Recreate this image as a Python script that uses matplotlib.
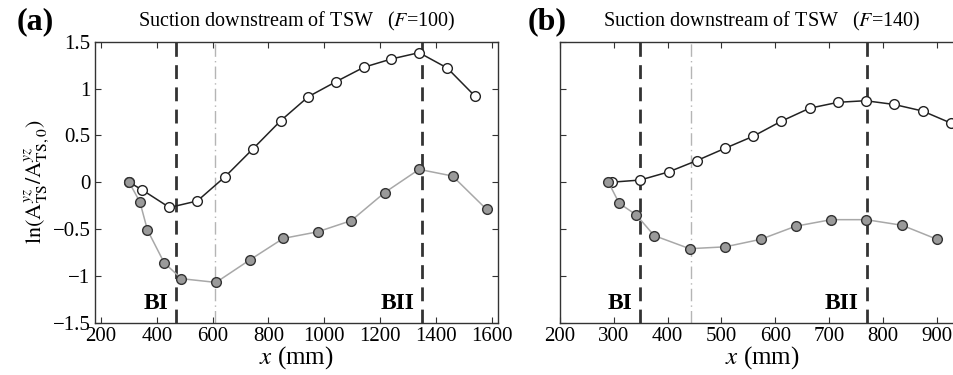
import matplotlib
matplotlib.use("Agg")
import matplotlib.pyplot as plt
from matplotlib.ticker import FuncFormatter

# panel (a): F=100
xa_open = [300, 346, 445, 545, 645, 744, 844, 943, 1042, 1142, 1240, 1340, 1441, 1540]
ya_open = [0.0, -0.08, -0.27, -0.20, 0.06, 0.355, 0.657, 0.913, 1.073, 1.227, 1.315, 1.383, 1.219, 0.92]
xa_fill = [300, 339, 366, 426, 488, 612, 733, 853, 976, 1097, 1217, 1340, 1460, 1582]
ya_fill = [0.0, -0.21, -0.51, -0.86, -1.03, -1.07, -0.83, -0.60, -0.53, -0.41, -0.11, 0.137, 0.066, -0.29]
a_bI, a_mid, a_bII = 469, 609, 1352

# panel (b): F=140
xb_open = [296, 349, 402, 454, 506, 559, 611, 664, 717, 768, 821, 874, 927]
yb_open = [0.0, 0.023, 0.11, 0.23, 0.36, 0.49, 0.65, 0.79, 0.853, 0.87, 0.83, 0.76, 0.63]
xb_fill = [290, 310, 342, 375, 441, 507, 573, 638, 704, 769, 836, 901]
yb_fill = [0.0, -0.225, -0.35, -0.57, -0.71, -0.69, -0.61, -0.47, -0.40, -0.40, -0.46, -0.61]
b_bI, b_mid, b_bII = 349, 444, 770

plt.rcParams["font.family"] = ["Liberation Serif", "DejaVu Serif"]
plt.rcParams["mathtext.fontset"] = "stix"
plt.rcParams["axes.unicode_minus"] = True

W, H = 954, 375
fig = plt.figure(figsize=(W / 100, H / 100), dpi=100)

def px_axes(x0, x1, y0, y1):
    return fig.add_axes([x0 / W, 1 - y1 / H, (x1 - x0) / W, (y1 - y0) / H])

fmt = FuncFormatter(lambda v, p: ("%g" % v).replace("-", "\u2212"))


def draw(ax, xo, yo, xf, yf, bI, mid, bII, title):
    span = ax.get_xlim()[1] - ax.get_xlim()[0]
    ax.axvline(bI, color="#333333", lw=2, ls=(0, (5, 3)), zorder=1)
    ax.axvline(bII, color="#333333", lw=2, ls=(0, (5, 3)), zorder=1)
    ax.axvline(mid, color="#b5b5b5", lw=1, ls=(0, (9, 3, 1, 3)), zorder=1)
    ax.plot(xo, yo, "-o", color="#222222", lw=1.1, ms=7, mfc="white",
            mec="#222222", mew=1, zorder=3)
    ax.plot(xf, yf, "-o", color="#a8a8a8", lw=1.1, ms=7, mfc="#9a9a9a",
            mec="#333333", mew=1, zorder=4)
    off = 8 / 403.6 * span
    ax.text(bI - off, -1.3, "BI", ha="right", va="center",
            fontsize=17, fontweight="bold")
    ax.text(bII - off, -1.3, "BII", ha="right", va="center",
            fontsize=17, fontweight="bold")
    ax.set_title(title, fontsize=14.5, pad=11)
    ax.set_xlabel(r"$x$ (mm)", fontsize=18, labelpad=-1)
    ax.set_ylim(-1.5, 1.5)
    ax.set_yticks([-1.5, -1, -0.5, 0, 0.5, 1, 1.5])
    ax.yaxis.set_major_formatter(fmt)
    ax.tick_params(direction="in", top=True, right=True, length=4,
                   labelsize=15, color="#333333", width=0.8, pad=3)
    for s in ax.spines.values():
        s.set_color("#333333")
        s.set_linewidth(1)


ax1 = px_axes(94.7, 498.3, 41.7, 322.7)
ax1.set_xlim(177, 1624)
ax1.set_xticks(range(200, 1601, 200))
draw(ax1, xa_open, ya_open, xa_fill, ya_fill, a_bI, a_mid, a_bII,
     r"Suction downstream of TSW   ($\it{F}$=100)")
ax1.set_ylabel(r"$\mathrm{ln}(\mathrm{A}^{yz}_{\mathrm{TS}}/\mathrm{A}^{yz}_{\mathrm{TS,0}})$",
               fontsize=16, labelpad=1)
fig.text(17 / W, 1 - 22 / H, "(a)", fontsize=23, fontweight="bold", va="center")

ax2 = px_axes(560, 963.5, 41.7, 322.7)
ax2.set_xlim(200, 950)
ax2.set_xticks(range(200, 901, 100))
draw(ax2, xb_open, yb_open, xb_fill, yb_fill, b_bI, b_mid, b_bII,
     r"Suction downstream of TSW   ($\it{F}$=140)")
ax2.tick_params(labelleft=False)
fig.text(528 / W, 1 - 22 / H, "(b)", fontsize=23, fontweight="bold", va="center")

fig.savefig("out.png", dpi=100)
